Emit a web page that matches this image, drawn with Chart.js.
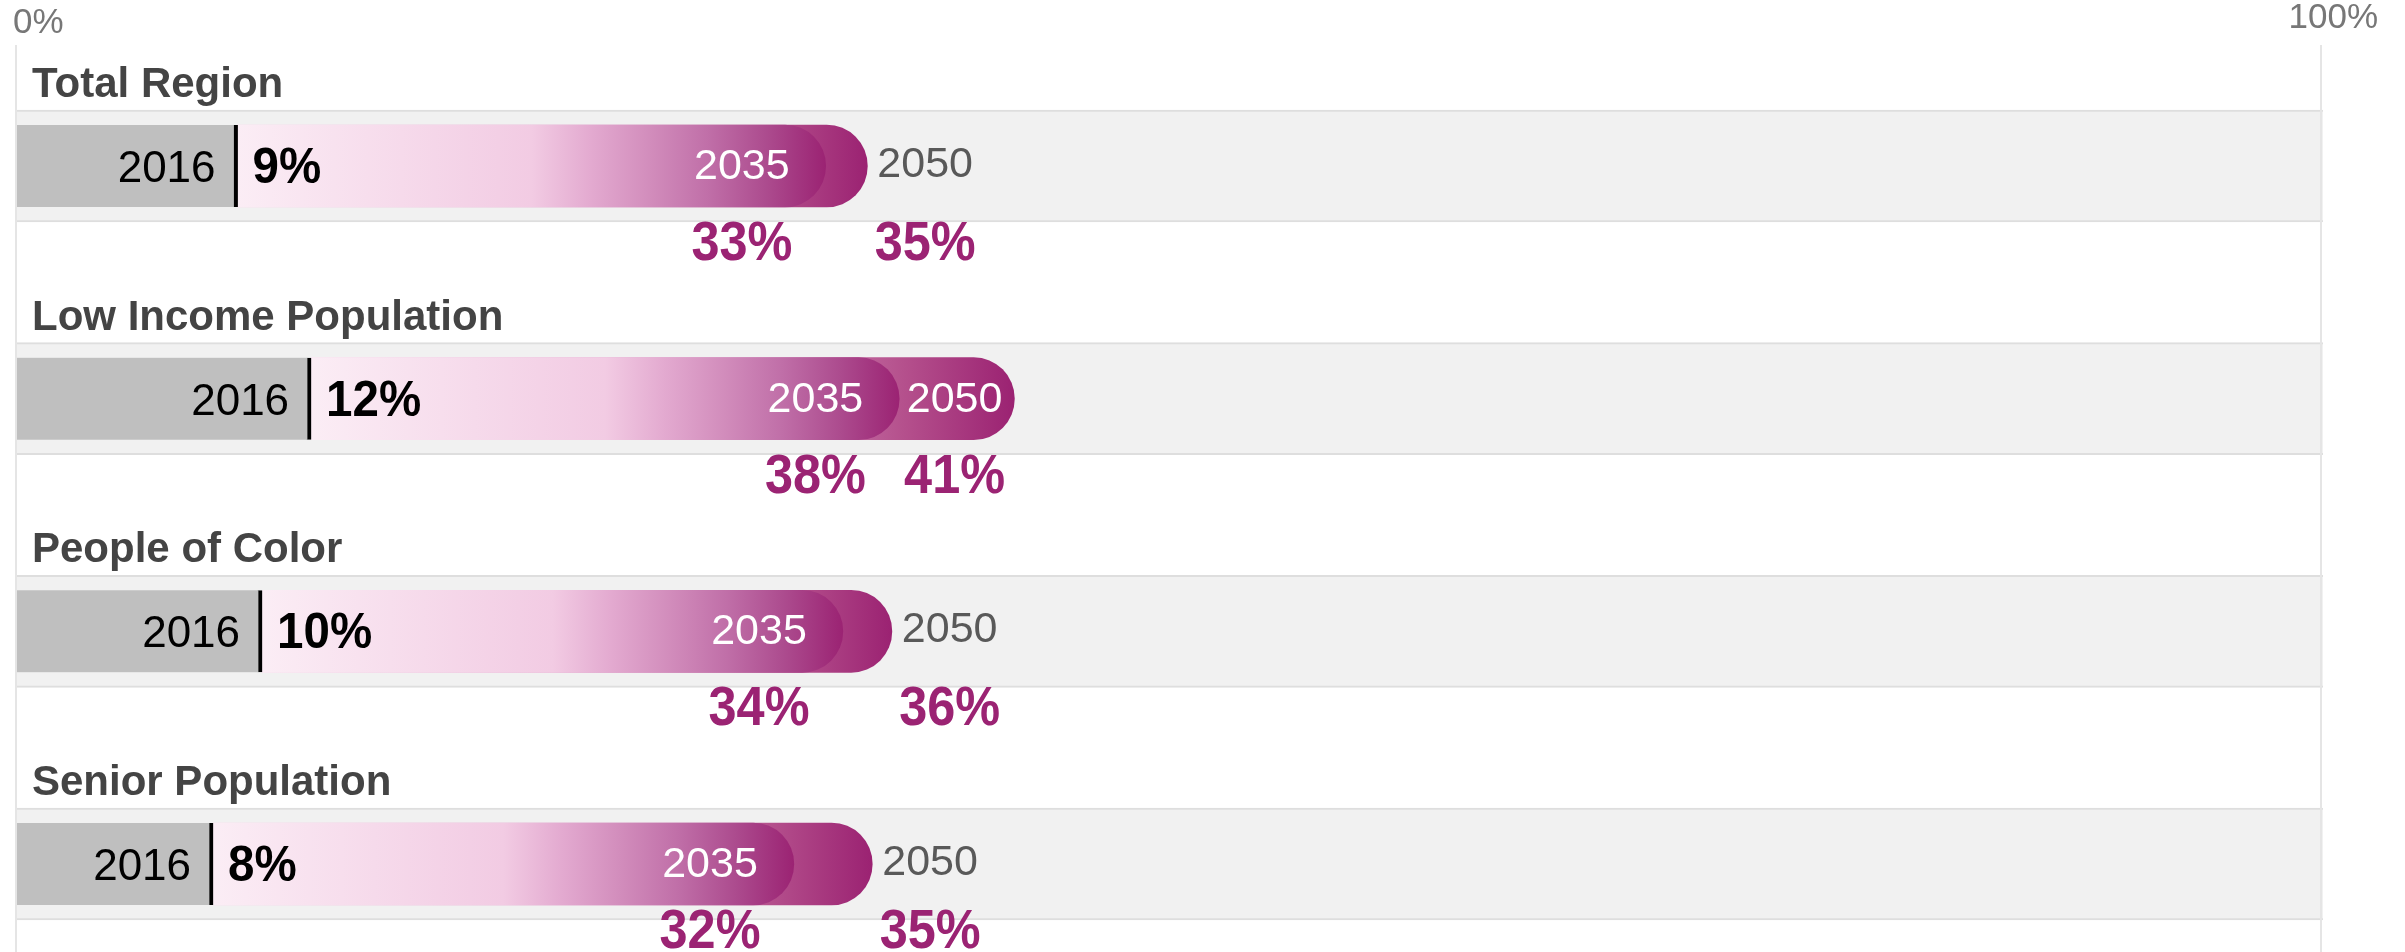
<!DOCTYPE html>
<html>
<head>
<meta charset="utf-8">
<title>Population share</title>
<script src="https://cdn.jsdelivr.net/npm/chart.js@4.4.1/dist/chart.umd.min.js"></script>
<style>
  html, body { margin: 0; padding: 0; background: #fff; }
  #wrap { width: 2405px; height: 952px; position: relative; }
</style>
</head>
<body>
<div id="wrap"><canvas id="chart"></canvas></div>
<script>
// rows of the chart
const groups = ["Total Region", "Low Income Population", "People of Color", "Senior Population"];
const years = ["2016", "2035", "2050"];

// bar lengths (percent) as drawn in the picture
const share2016 = [9, 12, 10, 8];
const share2035 = [33, 36, 33.7, 31.7];
const share2050 = [34.7, 40.7, 35.7, 34.9];

// printed value labels
const label2016 = ["9%", "12%", "10%", "8%"];
const label2035 = ["33%", "38%", "34%", "32%"];
const label2050 = ["35%", "41%", "36%", "35%"];

const axisTicks = ["0%", "100%"];
const AXIS_MAX = 94.1;

const FONT = "'Liberation Sans', Arial, sans-serif";
const PURPLE = "#9b2373";

const stops2035 = [[0, "#fbedf5"], [0.5, "#f2cbe3"], [0.6, "#e3aad0"], [0.7, "#d28dbc"], [0.8, "#c06fa8"], [0.9, "#ac4b8e"], [1, "#9b2373"]];
const stops2050 = [[0, "#f5d8ea"], [0.6, "#d894c2"], [0.84, "#b5518d"], [1, "#9b2272"]];

// gradient along each bar, from its start to its end
function barGradient(ctx, stops) {
  const chart = ctx.chart;
  if (!chart.chartArea || !ctx.raw) return stops[stops.length - 1][1];
  const x = chart.scales.x;
  const x0 = x.getPixelForValue(ctx.raw[0]);
  const x1 = x.getPixelForValue(ctx.raw[1]);
  const g = chart.ctx.createLinearGradient(x0, 0, x1, 0);
  stops.forEach(s => g.addColorStop(s[0], s[1]));
  return g;
}

function drawText(c, text, x, y, font, color, align, sx) {
  c.save();
  c.font = font;
  c.fillStyle = color;
  c.textAlign = align;
  c.textBaseline = "alphabetic";
  c.translate(x, y);
  c.scale(sx || 1, 1);
  c.fillText(text, 0, 0);
  c.restore();
}

const rowLabels = {
  id: "rowLabels",
  afterDatasetsDraw(chart) {
    const c = chart.ctx;
    const xs = chart.scales.x;
    const ys = chart.scales.y;
    const area = chart.chartArea;

    // axis frame lines
    c.save();
    c.strokeStyle = "#e5e5e5";
    c.lineWidth = 2;
    [area.left - 1, area.right - 2].forEach(x => {
      c.beginPath();
      c.moveTo(x, 45);
      c.lineTo(x, chart.height);
      c.stroke();
    });
    c.restore();

    drawText(c, axisTicks[0], 13, 33, "35px " + FONT, "#777", "left");
    drawText(c, axisTicks[1], 2378, 28, "35px " + FONT, "#777", "right");

    groups.forEach((name, i) => {
      const yc = ys.getPixelForValue(i);
      const bandTop = yc - 57;
      const x16 = xs.getPixelForValue(share2016[i]);
      const x35 = xs.getPixelForValue(share2035[i]);
      const x50 = xs.getPixelForValue(share2050[i]);

      drawText(c, name, 32, bandTop - 12, "bold 42px " + FONT, "#444", "left");

      drawText(c, years[0], x16 - 22, yc + 16, "44px " + FONT, "#000", "right");
      drawText(c, label2016[i], x16 + 15, yc + 17, "bold 50px " + FONT, "#000", "left", 0.95);

      c.font = "43px " + FONT;
      const w35 = c.measureText(years[1]).width;
      const w50 = c.measureText(years[2]).width;

      const c35 = x35 - 36 - w35 / 2;
      drawText(c, years[1], x35 - 36, yc + 13, "43px " + FONT, "#fff", "right");

      let c50;
      if (x50 - x35 > w50 + 16) {
        c50 = x50 - 12 - w50 / 2;
        drawText(c, years[2], x50 - 12, yc + 13, "43px " + FONT, "#fff", "right");
      } else {
        c50 = x50 + 10 + w50 / 2;
        drawText(c, years[2], x50 + 10, yc + 11, "43px " + FONT, "#595959", "left");
      }

      // percent labels sit under the year texts, kept inside the canvas
      const base = Math.min(yc + 94, chart.height - 4);
      drawText(c, label2035[i], c35, base, "bold 56px " + FONT, PURPLE, "center", 0.9);
      drawText(c, label2050[i], c50, base, "bold 56px " + FONT, PURPLE, "center", 0.9);
    });
  }
};

new Chart(document.getElementById("chart"), {
  type: "bar",
  data: {
    labels: groups,
    datasets: [
      {
        label: "band",
        data: groups.map(() => [0, AXIS_MAX]),
        backgroundColor: "#f1f1f1",
        borderColor: "#dedede",
        borderWidth: { top: 2, bottom: 2, left: 0, right: 0 },
        borderSkipped: false,
        barThickness: 112,
        order: 4
      },
      {
        label: years[2],
        data: share2016.map((v, i) => [v, share2050[i]]),
        backgroundColor: ctx => barGradient(ctx, stops2050),
        borderWidth: 0,
        borderRadius: { topLeft: 0, bottomLeft: 0, topRight: 41, bottomRight: 41 },
        borderSkipped: false,
        barThickness: 82,
        order: 3
      },
      {
        label: years[1],
        data: share2016.map((v, i) => [v, share2035[i]]),
        backgroundColor: ctx => barGradient(ctx, stops2035),
        borderWidth: 0,
        borderRadius: { topLeft: 0, bottomLeft: 0, topRight: 41, bottomRight: 41 },
        borderSkipped: false,
        barThickness: 82,
        order: 2
      },
      {
        label: years[0],
        data: share2016.map(v => [0, v]),
        backgroundColor: "#bfbfbf",
        borderColor: "#000",
        borderWidth: { top: 0, right: 4, bottom: 0, left: 0 },
        borderSkipped: false,
        barThickness: 82,
        order: 1
      }
    ]
  },
  options: {
    indexAxis: "y",
    responsive: true,
    maintainAspectRatio: false,
    animation: false,
    layout: { padding: { top: 166, bottom: 88, left: 17, right: 82 } },
    datasets: { bar: { grouped: false, clip: false } },
    scales: {
      x: { type: "linear", min: 0, max: AXIS_MAX, display: false },
      y: { type: "category", offset: false, display: false }
    },
    plugins: {
      legend: { display: false },
      tooltip: { enabled: false }
    }
  },
  plugins: [rowLabels]
});
</script>
</body>
</html>
